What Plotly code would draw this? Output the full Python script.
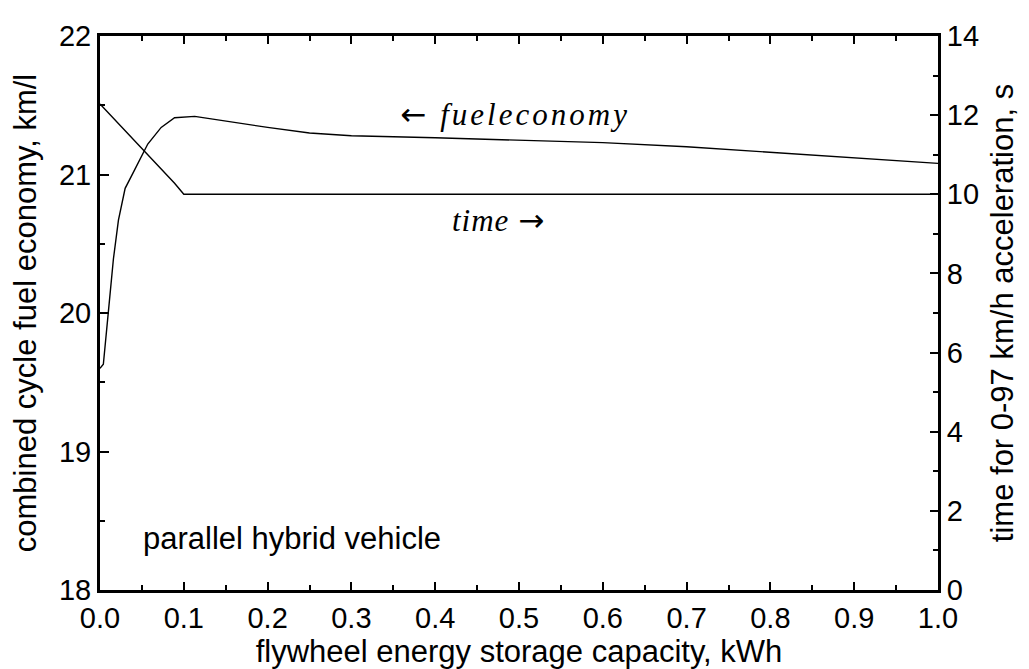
import plotly.graph_objects as go

# Fuel economy (left axis, km/l) vs flywheel capacity (kWh)
fuel_x = [0.0, 0.004, 0.01, 0.016, 0.022, 0.03, 0.041, 0.057, 0.073, 0.089, 0.113, 0.145,
          0.2, 0.25, 0.3, 0.4, 0.5, 0.6, 0.7, 0.8, 0.9, 1.0]
fuel_y = [19.6, 19.63, 20.01, 20.39, 20.67, 20.9, 21.03, 21.22, 21.34, 21.41, 21.42, 21.39,
          21.34, 21.3, 21.28, 21.265, 21.25, 21.23, 21.2, 21.16, 21.12, 21.08]

# 0-97 km/h acceleration time (right axis, s)
time_x = [0.0, 0.089, 0.1, 1.0]
time_y = [12.28, 10.28, 10.0, 10.0]

x_ticks = [0.0, 0.1, 0.2, 0.3, 0.4, 0.5, 0.6, 0.7, 0.8, 0.9, 1.0]
x_labels = ["0.0", "0.1", "0.2", "0.3", "0.4", "0.5", "0.6", "0.7", "0.8", "0.9", "1.0"]
y_ticks = [18, 19, 20, 21, 22]
y2_ticks = [0, 2, 4, 6, 8, 10, 12, 14]

FONT = "Liberation Sans, Arial, sans-serif"
SERIF = "Liberation Serif, Times New Roman, serif"
ARROW = "<span style='font-family:DejaVu Sans;font-style:normal'>{}</span>"

fig = go.Figure()
fig.add_trace(go.Scatter(x=fuel_x, y=fuel_y, mode="lines",
                         line=dict(color="black", width=1.4), showlegend=False))
fig.add_trace(go.Scatter(x=time_x, y=time_y, mode="lines", yaxis="y2",
                         line=dict(color="black", width=1.4), showlegend=False))

fig.update_layout(
    width=1029, height=669,
    margin=dict(l=92, r=99, t=21, b=87),
    paper_bgcolor="white", plot_bgcolor="white",
    font=dict(family=FONT, color="black", size=29),
    xaxis=dict(
        range=[0, 1], tickvals=x_ticks, ticktext=x_labels,
        ticks="inside", ticklen=8, tickwidth=1.5, tickcolor="black",
        minor=dict(ticks="inside", ticklen=5, tickwidth=1.5, dtick=0.05, tickcolor="black"),
        showline=True, linewidth=3, linecolor="black", mirror="ticks",
        showgrid=False, zeroline=False,
        tickfont=dict(size=29),
        title=dict(text="flywheel energy storage capacity, kWh", font=dict(size=31), standoff=7),
    ),
    yaxis=dict(
        range=[18, 22], tickvals=y_ticks,
        ticks="inside", ticklen=9, tickwidth=1.5, tickcolor="black",
        minor=dict(ticks="inside", ticklen=5, tickwidth=1.5, dtick=0.5, tickcolor="black"),
        showline=True, linewidth=3, linecolor="black", mirror=False,
        showgrid=False, zeroline=False,
        tickfont=dict(size=29),
        title=dict(text="combined cycle fuel economy, km/l", font=dict(size=31), standoff=14),
    ),
    yaxis2=dict(
        range=[0, 14], tickvals=y2_ticks, overlaying="y", side="right",
        ticks="inside", ticklen=8, tickwidth=1.5, tickcolor="black",
        minor=dict(ticks="inside", ticklen=5, tickwidth=1.5, dtick=1, tickcolor="black"),
        showline=True, linewidth=3, linecolor="black",
        showgrid=False, zeroline=False,
        tickfont=dict(size=29),
        title=dict(text="time for 0-97 km/h acceleration, s", font=dict(size=31), standoff=14),
    ),
    annotations=[
        dict(text=ARROW.format("←") + " fueleconomy", x=0.496, y=21.44, xref="x", yref="y",
             showarrow=False, xanchor="center", yanchor="middle",
             font=dict(family=SERIF, size=31, style="italic")),
        dict(text="time " + ARROW.format("→"), x=0.476, y=20.67, xref="x", yref="y",
             showarrow=False, xanchor="center", yanchor="middle",
             font=dict(family=SERIF, size=31, style="italic")),
        dict(text="parallel hybrid vehicle", x=0.049, y=18.37, xref="x", yref="y",
             showarrow=False, xanchor="left", yanchor="middle",
             font=dict(family=FONT, size=31)),
    ],
)

post = """
document.querySelectorAll('.annotation-text').forEach(function(t){
  var s = t.textContent;
  if (s.indexOf('fueleconomy') >= 0) { t.style.letterSpacing = '3px'; }
  else if (s.indexOf('time') >= 0) { t.style.letterSpacing = '1px'; }
});
"""

fig.write_html("out.html", post_script=post)
